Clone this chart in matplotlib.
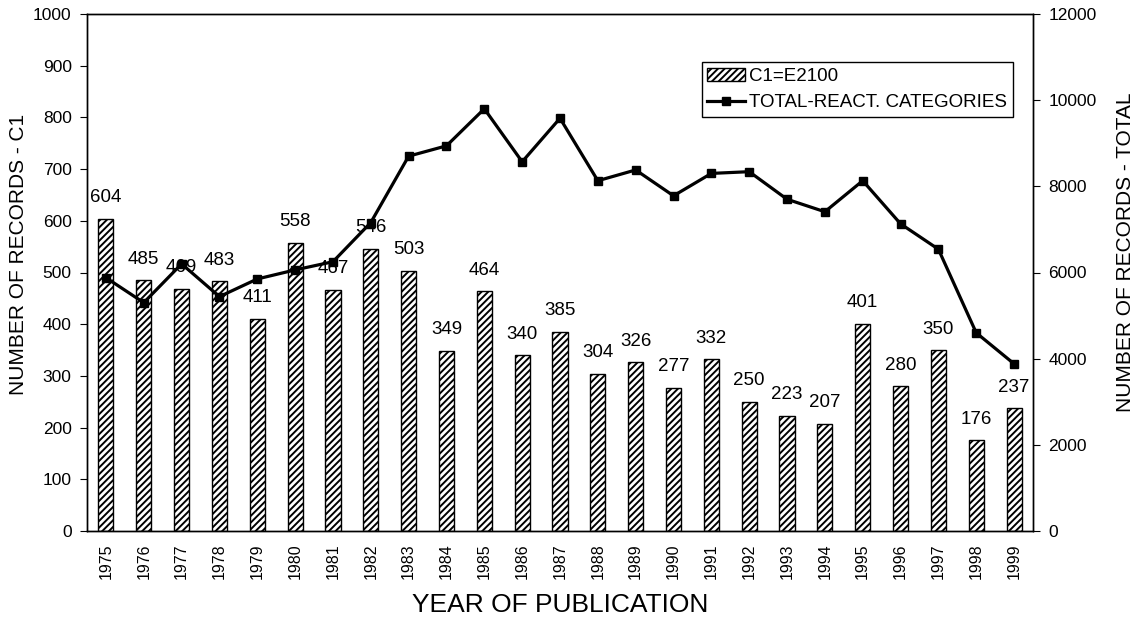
import numpy as np
import matplotlib
import matplotlib.pyplot as plt
matplotlib.use('Agg')

plt.rcParams['font.family'] = ['Liberation Sans', 'DejaVu Sans']
plt.rcParams['hatch.linewidth'] = 1.4

years = [str(y) for y in range(1975, 2000)]
c1_records = [604, 485, 469, 483, 411, 558, 467, 546, 503, 349, 464, 340, 385,
              304, 326, 277, 332, 250, 223, 207, 401, 280, 350, 176, 237]
total_records = [5880, 5300, 6200, 5440, 5850, 6060, 6250, 7160, 8700, 8940,
                 9800, 8570, 9580, 8130, 8380, 7780, 8300, 8340, 7700, 7410,
                 8130, 7130, 6540, 4600, 3880]

fig = plt.figure(figsize=(11.34, 6.23), dpi=100)
ax = fig.add_axes([87 / 1134, 92 / 623, 946 / 1134, 517 / 623])
ax2 = ax.twinx()

x = np.arange(len(years))

# bars (left axis)
bars = ax.bar(x, c1_records, width=0.4, facecolor='white', edgecolor='black',
              hatch='/////', linewidth=1.0, label='C1=E2100')
for xi, v in zip(x, c1_records):
    ax.annotate(str(v), (xi, v), xytext=(0, 9), textcoords='offset points',
                ha='center', va='bottom', fontsize=13.5, zorder=5)

# line (right axis)
line, = ax2.plot(x, total_records, color='black', linewidth=2.3, marker='s',
                 markersize=6, label='TOTAL-REACT. CATEGORIES')

ax.set_xlim(-0.5, len(years) - 0.5)
ax.set_ylim(0, 1000)
ax2.set_ylim(0, 12000)
ax.set_yticks(np.arange(0, 1001, 100))
ax2.set_yticks(np.arange(0, 12001, 2000))
ax.set_xticks(x)
ax.set_xticklabels(years, rotation=90, fontsize=11.5)
ax.tick_params(axis='x', length=0, pad=9)
ax.tick_params(axis='y', direction='out', length=5, labelsize=12.5, pad=6)
ax2.tick_params(axis='y', direction='out', length=5, labelsize=12.5, pad=6)

ax.set_xlabel('YEAR OF PUBLICATION', fontsize=19, labelpad=10)
ax.set_ylabel('NUMBER OF RECORDS - C1', fontsize=15)
ax2.set_ylabel('NUMBER OF RECORDS - TOTAL', fontsize=15)
# excel puts the axis titles a bit above the middle
ax.yaxis.set_label_coords(-0.062, 0.535)
ax2.yaxis.set_label_coords(1.088, 0.54)

for a in (ax, ax2):
    for s in a.spines.values():
        s.set_linewidth(1.0)

leg = ax2.legend([bars, line], ['C1=E2100', 'TOTAL-REACT. CATEGORIES'],
                 loc='upper right', bbox_to_anchor=(1013 / 1134, 1 - 62 / 623),
                 bbox_transform=fig.transFigure, fontsize=13.5, fancybox=False,
                 framealpha=1, edgecolor='black', borderpad=0.3,
                 handlelength=2.0, handletextpad=0.25, labelspacing=0.5,
                 borderaxespad=0)
leg.get_frame().set_linewidth(1.0)

fig.savefig('out.png', dpi=100)
